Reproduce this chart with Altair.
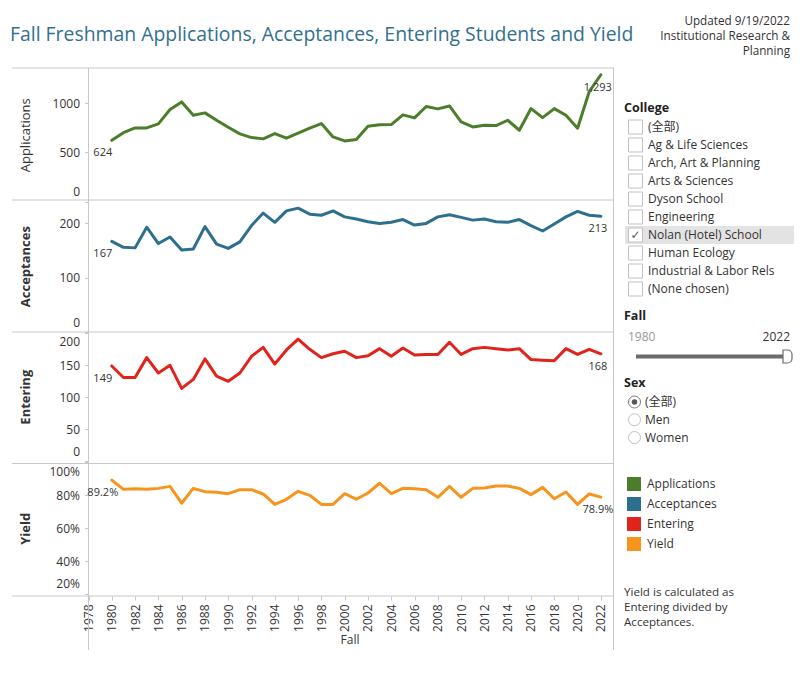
import altair as alt
import pandas as pd

# ---------------- data ----------------
years = list(range(1980, 2023))
applications = [624, 702, 751, 751, 792, 938, 1016, 880, 904, 829, 758, 690, 652, 639, 693, 646, 697, 748, 795, 659,
                618, 632, 768, 782, 785, 884, 853, 969, 945, 975, 812, 761, 778, 775, 829, 727, 948, 856, 948, 880,
                748, 1120, 1293]
acceptances = [167, 156, 155, 193, 163, 175, 151, 153, 194, 162, 154, 166, 196, 219, 202, 223, 228, 217, 215, 223,
               212, 208, 203, 200, 202, 207, 197, 200, 212, 216, 211, 206, 208, 203, 202, 207, 196, 186, 199, 212,
               222, 215, 213]
entering = [149, 131, 131, 162, 138, 150, 114, 128, 160, 133, 125, 138, 164, 178, 152, 174, 191, 175, 162, 168,
            172, 162, 165, 176, 164, 177, 166, 167, 167, 186, 167, 176, 178, 176, 174, 176, 159, 158, 157, 176,
            167, 175, 168]
yield_rate = [0.892, 0.836, 0.840, 0.836, 0.842, 0.854, 0.752, 0.842, 0.822, 0.818, 0.810, 0.834, 0.834, 0.808,
              0.745, 0.776, 0.824, 0.800, 0.745, 0.745, 0.810, 0.776, 0.814, 0.873, 0.810, 0.842, 0.840, 0.834,
              0.788, 0.854, 0.788, 0.842, 0.844, 0.856, 0.856, 0.842, 0.804, 0.848, 0.779, 0.820, 0.745, 0.808,
              0.789]

measures = ["Applications", "Acceptances", "Entering", "Yield"]
measure_colors = ["#4b7d2b", "#2e6f8e", "#e0241b", "#f7941d"]

colleges = ["(全部)", "Ag & Life Sciences", "Arch, Art & Planning", "Arts & Sciences", "Dyson School",
            "Engineering", "Nolan (Hotel) School", "Human Ecology", "Industrial & Labor Rels", "(None chosen)"]
college_checked = [False, False, False, False, False, False, True, False, False, False]
sex_options = ["(全部)", "Men", "Women"]
sex_selected = [True, False, False]
fall_range = [1980, 2022]
year_ticks = list(range(1978, 2023, 2))
app_ticks = [0, 500, 1000]
acc_ticks = [0, 100, 200]
ent_ticks = [0, 50, 100, 150, 200]
yld_ticks = [0.2, 0.4, 0.6, 0.8, 1.0]
note_lines = ["Yield is calculated as", "Entering divided by", "Acceptances."]
update_lines = ["Updated 9/19/2022", "Institutional Research &", "Planning"]
title_text = "Fall Freshman Applications, Acceptances, Entering Students and Yield"

# ---------------- layout / style ----------------
FONT = "'Open Sans', 'Noto Sans CJK SC', sans-serif"
TXT = "#333333"
LINE_GRAY = "#c8c8c8"
W, H = 811, 675
X0, X1 = 88.5, 612.5
SEP = [68, 200, 332, 463.5, 596]

color_scale = alt.Scale(domain=measures, range=measure_colors)


def one(**kw):
    return pd.DataFrame({k: [v] for k, v in kw.items()})


x_enc = alt.X(
    "year:Q",
    scale=alt.Scale(domain=[1978, 2023], range=[X0, X1], nice=False, zero=False),
    axis=alt.Axis(orient="bottom", offset=-(H - SEP[4]), values=year_ticks, format="d",
                  labelAngle=270, labelFontSize=12, labelColor=TXT, labelFont=FONT, labelPadding=4,
                  domain=False, grid=False, ticks=True, tickSize=4, tickColor=LINE_GRAY, title=None),
)


def panel(measure, values, domain, rng, tick_vals, fmt, label_fmt, bold, flush_off):
    df = pd.DataFrame({"year": years, "value": values, "measure": measure})
    y = alt.Y(
        "value:Q",
        scale=alt.Scale(domain=domain, range=rng, nice=False, zero=False),
        axis=alt.Axis(orient="left", offset=-X0, values=tick_vals, format=fmt, domain=False, grid=False,
                      ticks=True, tickSize=4, tickColor=LINE_GRAY, labelFontSize=12, labelColor=TXT,
                      labelFont=FONT, labelPadding=5, labelFlush=3, labelFlushOffset=flush_off,
                      title=measure, titleX=25 - X0,
                      titleBaseline="middle", titleFontSize=13,
                      titleFontWeight="bold" if bold else "normal", titleColor=TXT, titleFont=FONT),
    )
    base = alt.Chart(df).encode(x=x_enc, y=y)
    line = base.mark_line(strokeWidth=3, strokeJoin="round", strokeCap="round").encode(
        color=alt.Color("measure:N", scale=color_scale, legend=None))
    lab = dict(fontSize=11, font=FONT, color=TXT, dy=13, baseline="middle")
    first = base.transform_filter(alt.datum.year == years[0]).mark_text(dx=-9, **lab).encode(
        text=alt.Text("value:Q", format=label_fmt))
    last = base.transform_filter(alt.datum.year == years[-1]).mark_text(dx=-3, **lab).encode(
        text=alt.Text("value:Q", format=label_fmt))
    return alt.layer(line, first, last)


p_app = panel("Applications", applications, [0, 1362], [201.5, SEP[0]], app_ticks, "d", ",d", False, -3)
p_acc = panel("Acceptances", acceptances, [0, 243], [332.2, SEP[1]], acc_ticks, "d", "d", True, -3)
p_ent = panel("Entering", entering, [0, 202], [461.4, SEP[2]], ent_ticks, "d", "d", True, -3)
p_yld = panel("Yield", yield_rate, [0.2, 1.0], [594.3, 462.3], yld_ticks, ".0%", ".1%", True, -4)

# ---------------- frame lines ----------------
frame = []
for yy in SEP:
    frame.append(alt.Chart(one(a=0)).mark_rule(color=LINE_GRAY, strokeWidth=1).encode(
        x=alt.value(12), x2=alt.value(614), y=alt.value(yy)))
for xx in [X0, 613.5]:
    frame.append(alt.Chart(one(a=0)).mark_rule(color=LINE_GRAY, strokeWidth=1).encode(
        x=alt.value(xx), y=alt.value(SEP[0]), y2=alt.value(650)))

# ---------------- texts ----------------
title = alt.Chart(one(t=title_text)).mark_text(
    align="left", baseline="middle", fontSize=19.4, font=FONT, color="#33708f").encode(
    x=alt.value(10), y=alt.value(35), text="t:N")

upd_df = pd.DataFrame({"t": update_lines, "idx": list(range(len(update_lines)))})
updated = alt.Chart(upd_df).mark_text(align="right", baseline="middle", fontSize=11.7, font=FONT, color=TXT).encode(
    x=alt.value(790), text="t:N",
    y=alt.Y("idx:Q", scale=alt.Scale(domain=[0, 2], range=[20.5, 50.5]), axis=None))

fall_title = alt.Chart(one(t="Fall")).mark_text(baseline="middle", fontSize=12, font=FONT, color=TXT).encode(
    x=alt.value(350), y=alt.value(640), text="t:N")

# ---------------- sidebar: College ----------------
def header(txt, yy):
    return alt.Chart(one(t=txt)).mark_text(align="left", baseline="middle", fontSize=12.5, fontWeight="bold",
                                          font=FONT, color="#222").encode(
        x=alt.value(624), y=alt.value(yy), text="t:N")


col_df = pd.DataFrame({"name": colleges, "idx": list(range(len(colleges))), "checked": college_checked})
col_scale = alt.Scale(domain=[0, len(colleges) - 1], range=[127, 289])
ycol = alt.Y("idx:Q", scale=col_scale, axis=None)
col_hl = alt.Chart(col_df).transform_filter("datum.checked").transform_calculate(
    lo="datum.idx - 0.5", hi="datum.idx + 0.5").mark_rect(color="#e3e3e3").encode(
    x=alt.value(625), x2=alt.value(794), y=alt.Y("lo:Q", scale=col_scale, axis=None), y2="hi:Q")
col_box = alt.Chart(col_df).mark_square(size=196, filled=True, color="white", stroke="#c2c2c2",
                                        strokeWidth=1, opacity=1).encode(x=alt.value(635.5), y=ycol)
col_chk = alt.Chart(col_df).transform_filter("datum.checked").mark_text(
    text="✓", font="DejaVu Sans", fontSize=12, color="#555", baseline="middle").encode(
    x=alt.value(635.5), y=ycol)
col_lab = alt.Chart(col_df).mark_text(align="left", baseline="middle", fontSize=12, font=FONT, color=TXT).encode(
    x=alt.value(648), y=ycol, text="name:N")

# ---------------- sidebar: Fall slider ----------------
fall_lo = alt.Chart(one(v=fall_range[0])).mark_text(align="left", baseline="middle", fontSize=12, font=FONT,
                                                   color="#9a9a9a").encode(
    x=alt.value(628), y=alt.value(337), text="v:N")
fall_hi = alt.Chart(one(v=fall_range[1])).mark_text(align="right", baseline="middle", fontSize=12, font=FONT,
                                                   color=TXT).encode(
    x=alt.value(790), y=alt.value(337), text="v:N")
track = alt.Chart(one(a=0)).mark_rule(color="#6b6b6b", strokeWidth=4).encode(
    x=alt.value(636), x2=alt.value(785), y=alt.value(356.5))
handle = alt.Chart(one(a=0)).mark_rect(fill="white", stroke="#6b6b6b", strokeWidth=1.2,
                                       cornerRadiusTopRight=6, cornerRadiusBottomRight=6).encode(
    x=alt.value(783), x2=alt.value(792), y=alt.value(350), y2=alt.value(363))

# ---------------- sidebar: Sex ----------------
sex_df = pd.DataFrame({"name": sex_options, "idx": list(range(len(sex_options))), "selected": sex_selected})
ysex = alt.Y("idx:Q", scale=alt.Scale(domain=[0, 2], range=[402, 437.5]), axis=None)
sex_ring = alt.Chart(sex_df).mark_point(shape="circle", size=144, filled=True, fill="white",
                                         strokeWidth=1, opacity=1).encode(
    x=alt.value(634.5), y=ysex,
    stroke=alt.condition("datum.selected", alt.value("#7a7a7a"), alt.value("#c2c2c2")))
sex_dot = alt.Chart(sex_df).transform_filter("datum.selected").mark_point(
    shape="circle", size=30, filled=True, color="#555", opacity=1).encode(x=alt.value(634.5), y=ysex)
sex_lab = alt.Chart(sex_df).mark_text(align="left", baseline="middle", fontSize=12, font=FONT, color=TXT).encode(
    x=alt.value(645), y=ysex, text="name:N")

# ---------------- sidebar: colour legend ----------------
leg_df = pd.DataFrame({"measure": measures, "idx": list(range(len(measures)))})
yleg = alt.Y("idx:Q", scale=alt.Scale(domain=[0, 3], range=[484, 544]), axis=None)
leg_sq = alt.Chart(leg_df).mark_square(size=196, opacity=1).encode(
    x=alt.value(634), y=yleg, color=alt.Color("measure:N", scale=color_scale, legend=None))
leg_lab = alt.Chart(leg_df).mark_text(align="left", baseline="middle", fontSize=12, font=FONT, color=TXT).encode(
    x=alt.value(647), y=yleg, text="measure:N")

# ---------------- sidebar: note ----------------
note_df = pd.DataFrame({"t": note_lines, "idx": list(range(len(note_lines)))})
note = alt.Chart(note_df).mark_text(align="left", baseline="middle", fontSize=11.6, font=FONT, color=TXT).encode(
    x=alt.value(624), text="t:N",
    y=alt.Y("idx:Q", scale=alt.Scale(domain=[0, 2], range=[593, 623]), axis=None))

layers = frame + [p_app, p_acc, p_ent, p_yld, title, updated, fall_title,
                  header("College", 108), col_hl, col_box, col_chk, col_lab,
                  header("Fall", 316), fall_lo, fall_hi, track, handle,
                  header("Sex", 383), sex_ring, sex_dot, sex_lab,
                  leg_sq, leg_lab, note]

chart = alt.layer(*layers).resolve_scale(y="independent").properties(
    width=W, height=H, autosize=alt.AutoSizeParams(type="none"), padding=0,
    background="white").configure_view(stroke=None)

chart.save("out.html", embed_options={"renderer": "svg", "actions": False})
